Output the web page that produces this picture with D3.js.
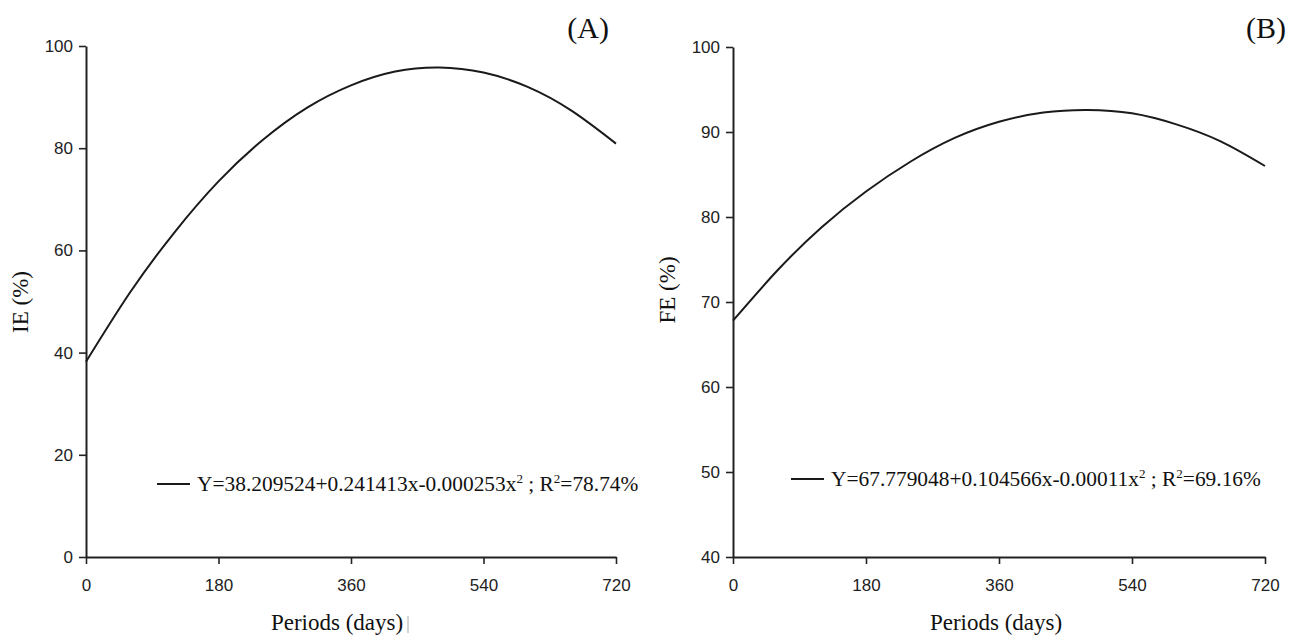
<!DOCTYPE html>
<html lang="en">
<head>
	<meta charset="UTF-8">
	<title>IE and FE over periods</title>
	<script src="https://cdn.jsdelivr.net/npm/d3@7"></script>
	<style>
		body { margin: 0; background: #fff; }
		.tick text { font-family: "Liberation Sans Narrow", "Liberation Sans", Arial, sans-serif; font-size: 17px; fill: #222; }
		.serif { font-family: "Liberation Serif", "Times New Roman", serif; fill: #111; }
	</style>
</head>
<body>
<svg id="chart" width="1293" height="636"></svg>
<script>

// values
const periods = [0, 60, 120, 180, 240, 300, 360, 420, 480, 540, 600, 660, 720];
const ieValues = [38.2, 51.8, 63.5, 73.5, 81.6, 87.9, 92.3, 95.0, 95.8, 94.8, 92.0, 87.3, 80.9];
const feValues = [67.8, 73.7, 78.8, 83.0, 86.5, 89.3, 91.2, 92.3, 92.6, 92.2, 90.9, 88.9, 86.0];

const xTicks = [0, 180, 360, 540, 720];
const ieTicks = [0, 20, 40, 60, 80, 100];
const feTicks = [40, 50, 60, 70, 80, 90, 100];

const panels = [
	{
		label: '(A)', yTitle: 'IE (%)', values: ieValues, yDomain: [0, 100], yTicks: ieTicks,
		left: 86, right: 616, top: 46, bottom: 557,
		labelX: 609, legendX: 157, legendY: 484,
		xTitleX: 337, yTitleY: 302,
		eq: 'Y=38.209524+0.241413x-0.000253x', r2: '78.74%'
	},
	{
		label: '(B)', yTitle: 'FE (%)', values: feValues, yDomain: [40, 100], yTicks: feTicks,
		left: 733, right: 1265, top: 47, bottom: 557,
		labelX: 1286, legendX: 791, legendY: 479,
		xTitleX: 996, yTitleY: 290,
		eq: 'Y=67.779048+0.104566x-0.00011x', r2: '69.16%'
	}
];

const svg = d3.select('#chart');

panels.forEach(p => {
	const x = d3.scaleLinear().domain([0, 720]).range([p.left, p.right]);
	const y = d3.scaleLinear().domain(p.yDomain).range([p.bottom, p.top]);
	const g = svg.append('g');

	const xAxis = g.append('g')
		.attr('transform', `translate(0,${p.bottom})`)
		.call(d3.axisBottom(x).tickValues(xTicks).tickSize(7).tickSizeOuter(0).tickPadding(15));
	const yAxis = g.append('g')
		.attr('transform', `translate(${p.left},0)`)
		.call(d3.axisLeft(y).tickValues(p.yTicks).tickSize(7).tickSizeOuter(0).tickPadding(6));
	[xAxis, yAxis].forEach(a => {
		a.select('.domain').attr('stroke', '#222').attr('stroke-width', 2);
		a.selectAll('.tick line').attr('stroke', '#222').attr('stroke-width', 1.6);
	});

	const line = d3.line()
		.x((d, i) => x(periods[i]))
		.y(d => y(d))
		.curve(d3.curveNatural);
	g.append('path')
		.datum(p.values)
		.attr('d', line)
		.attr('fill', 'none')
		.attr('stroke', '#1a1a1a')
		.attr('stroke-width', 2);

	g.append('text').attr('class', 'serif')
		.attr('x', p.xTitleX).attr('y', 630)
		.attr('text-anchor', 'middle').style('font-size', '23px')
		.text('Periods (days)');

	g.append('text').attr('class', 'serif')
		.attr('transform', `translate(${p.left - 58},${p.yTitleY}) rotate(-90)`)
		.attr('text-anchor', 'middle').style('font-size', '23px')
		.text(p.yTitle);

	g.append('text').attr('class', 'serif')
		.attr('x', p.labelX).attr('y', 38)
		.attr('text-anchor', 'end').style('font-size', '30px')
		.text(p.label);

	// legend
	g.append('line')
		.attr('x1', p.legendX).attr('x2', p.legendX + 33)
		.attr('y1', p.legendY).attr('y2', p.legendY)
		.attr('stroke', '#1a1a1a').attr('stroke-width', 2);
	const t = g.append('text').attr('class', 'serif')
		.attr('x', p.legendX + 40).attr('y', p.legendY + 7)
		.style('font-size', '21.4px');
	t.append('tspan').text(p.eq);
	t.append('tspan').attr('dy', -8).style('font-size', '13px').text('2');
	t.append('tspan').attr('dy', 8).text(' ; R');
	t.append('tspan').attr('dy', -8).style('font-size', '13px').text('2');
	t.append('tspan').attr('dy', 8).text('=' + p.r2);
});

// small stray mark next to the left x title
svg.append('line')
	.attr('x1', 408).attr('x2', 408).attr('y1', 616).attr('y2', 633)
	.attr('stroke', '#aaa').attr('stroke-width', 1);

</script>
</body>
</html>
